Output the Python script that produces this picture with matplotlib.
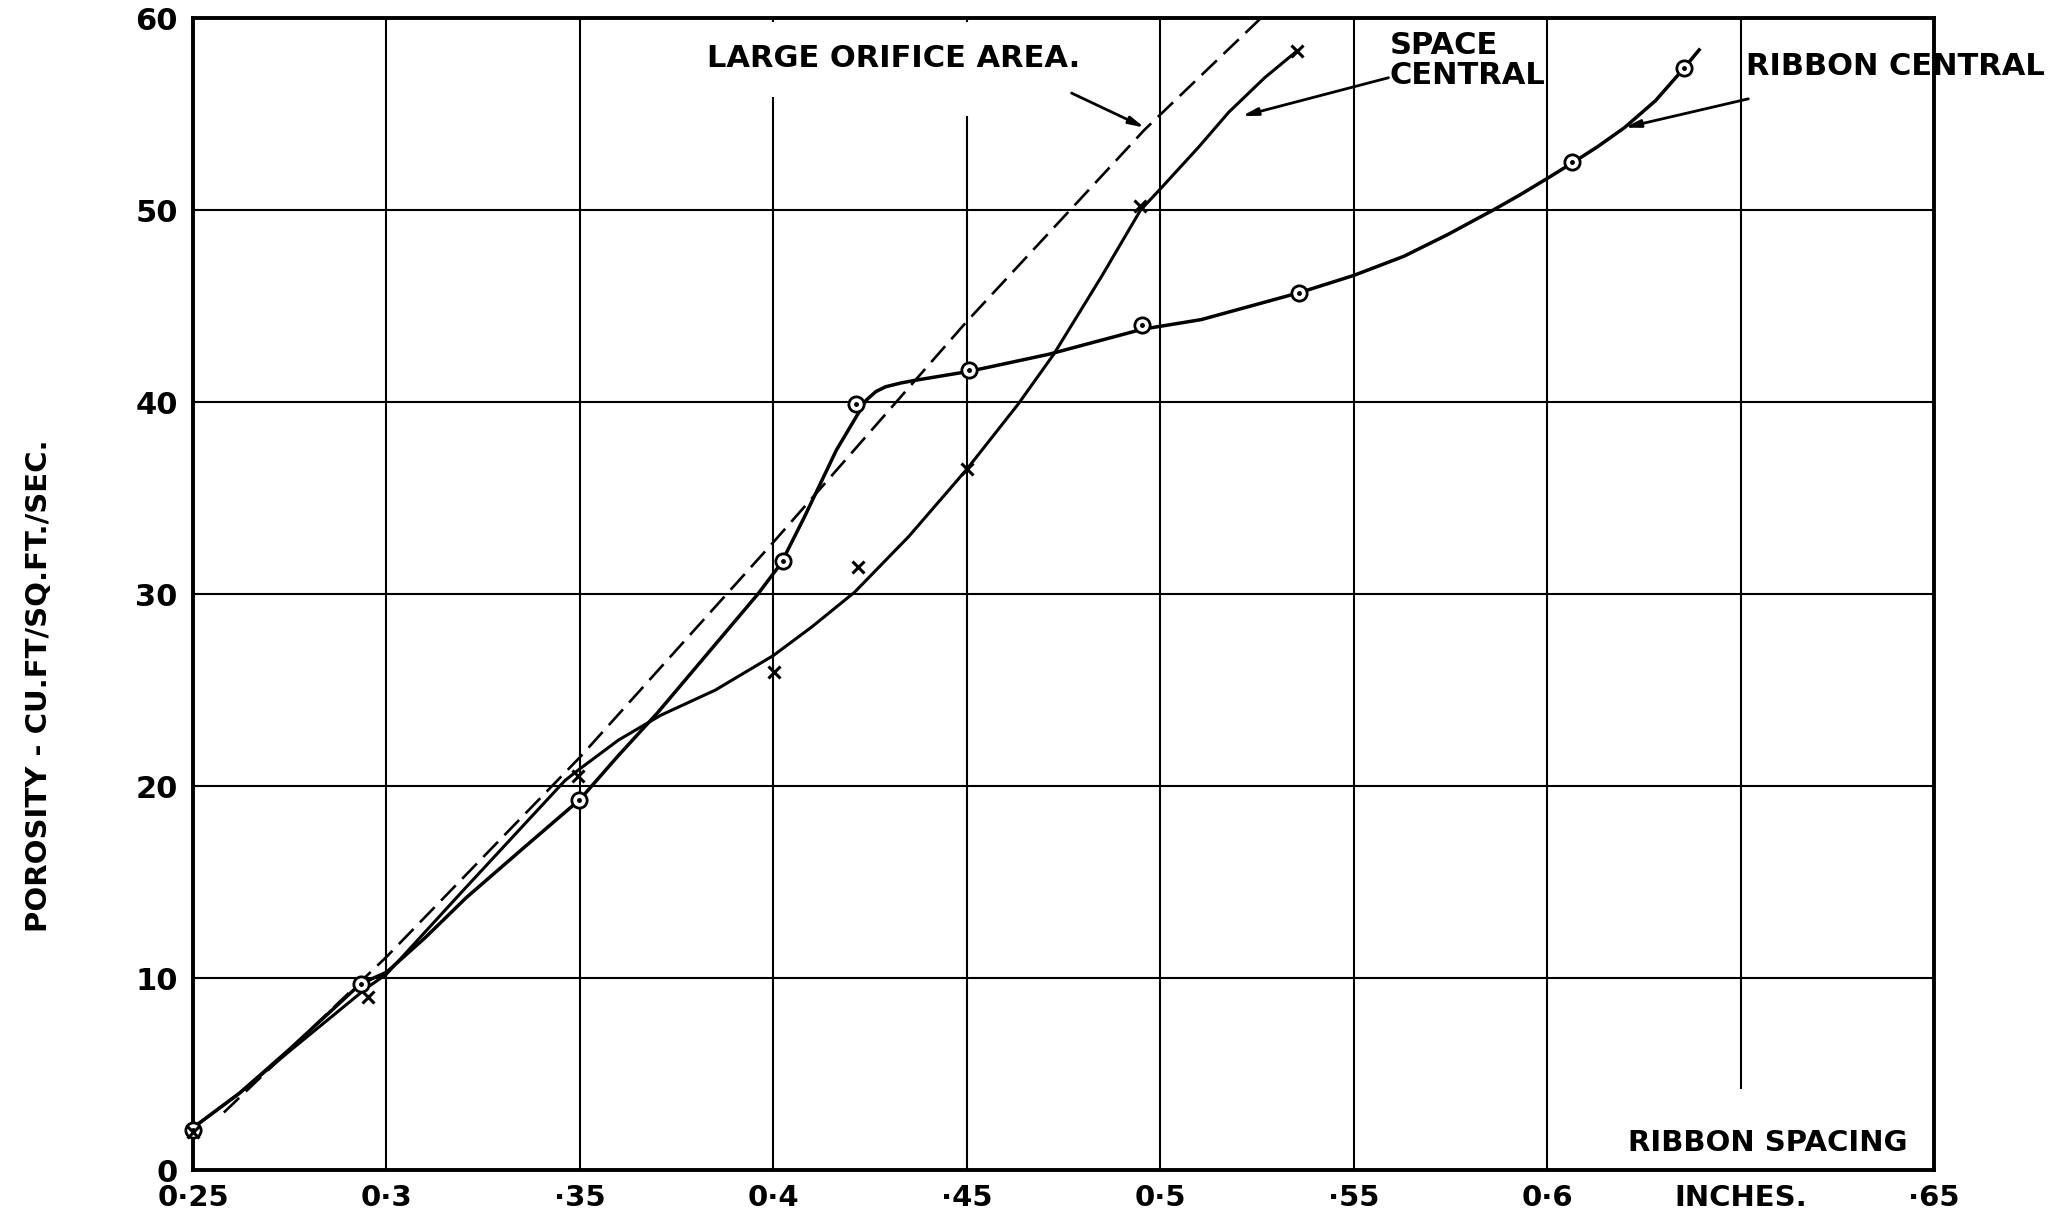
import numpy as np
import matplotlib
matplotlib.use('Agg')
import matplotlib.pyplot as plt

plt.rcParams['font.family'] = ['DejaVu Sans']

ribbon_x = [0.250, 0.2935, 0.3498, 0.4024, 0.4214, 0.4505, 0.4954, 0.5359, 0.6065, 0.6354]
ribbon_y = [2.1, 9.7, 19.3, 31.75, 39.9, 41.7, 44.0, 45.7, 52.5, 57.4]

space_x = [0.250, 0.2953, 0.3496, 0.4003, 0.4220, 0.4500, 0.4949, 0.5354]
space_y = [2.0, 9.0, 20.55, 25.96, 31.4, 36.5, 50.2, 58.3]

# hand drawn curves, traced
ribbon_curve_x = [0.250, 0.262, 0.275, 0.2933, 0.300, 0.310, 0.3207, 0.335, 0.350, 0.360,
                  0.370, 0.383, 0.396, 0.402, 0.408, 0.4163, 0.4225, 0.424, 0.4265, 0.429,
                  0.433, 0.437, 0.4505, 0.4644, 0.4713, 0.4954, 0.5106, 0.5359, 0.550,
                  0.563, 0.5745, 0.580, 0.586, 0.593, 0.600, 0.6065, 0.613, 0.620, 0.628,
                  0.6354, 0.6393]
ribbon_curve_y = [2.2, 4.0, 6.3, 9.7, 10.3, 12.1, 14.2, 16.7, 19.3, 21.6,
                  23.8, 26.9, 30.0, 31.6, 34.0, 37.5, 39.6, 40.1, 40.55, 40.8,
                  41.0, 41.15, 41.6, 42.2, 42.5, 43.8, 44.3, 45.7, 46.6,
                  47.6, 48.75, 49.35, 50.0, 50.8, 51.65, 52.46, 53.3, 54.3, 55.7,
                  57.4, 58.35]

space_curve_x = [0.250, 0.262, 0.275, 0.295, 0.300, 0.320, 0.3462, 0.350, 0.360, 0.371,
                 0.385, 0.400, 0.410, 0.421, 0.435, 0.450, 0.4633, 0.4725, 0.485, 0.4949,
                 0.500, 0.510, 0.5177, 0.527, 0.5354]
space_curve_y = [2.2, 4.0, 6.2, 9.5, 10.2, 14.6, 20.3, 20.9, 22.4, 23.7,
                 25.0, 26.8, 28.3, 30.1, 33.0, 36.5, 39.9, 42.5, 46.6, 50.0,
                 51.1, 53.3, 55.1, 56.9, 58.3]

orifice_x = [0.258, 0.300, 0.350, 0.400, 0.450, 0.496, 0.526]
orifice_y = [3.0, 11.1, 21.5, 32.7, 44.2, 54.2, 60.0]

x_ticks = [0.25, 0.30, 0.35, 0.40, 0.45, 0.50, 0.55, 0.60, 0.65, 0.70]
x_labels = ['0·25', '0·3', '·35', '0·4', '·45', '0·5', '·55', '0·6', 'INCHES.', '·65']
y_ticks = [0, 10, 20, 30, 40, 50, 60]

fig = plt.figure(figsize=(20.57, 12.15), dpi=100)
ax = fig.add_axes([0.0938, 0.037, 0.8464, 0.948])
ax.set_xlim(0.25, 0.70)
ax.set_ylim(0, 60)

# grid, drawn by hand so the gaps under the lettering stay open
for y in y_ticks[1:-1]:
    ax.hlines(y, 0.25, 0.70, color='black', lw=1.5, zorder=1)
for x in [0.30, 0.35, 0.50, 0.55, 0.60]:
    ax.vlines(x, 0, 60, color='black', lw=1.5, zorder=1)
ax.vlines(0.40, 0, 55.9, color='black', lw=1.5, zorder=1)
ax.vlines(0.40, 59.8, 60, color='black', lw=1.5, zorder=1)
ax.vlines(0.45, 0, 54.9, color='black', lw=1.5, zorder=1)
ax.vlines(0.45, 59.8, 60, color='black', lw=1.5, zorder=1)
ax.vlines(0.65, 4.2, 60, color='black', lw=1.5, zorder=1)

for s in ax.spines.values():
    s.set_linewidth(2.8)
    s.set_color('black')

ax.plot(orifice_x, orifice_y, color='black', lw=1.9, dashes=(8, 3.5), zorder=2)
ax.plot(ribbon_curve_x, ribbon_curve_y, color='black', lw=2.5, zorder=3, solid_joinstyle='round')
ax.plot(space_curve_x, space_curve_y, color='black', lw=2.2, zorder=3, solid_joinstyle='round')

ax.plot(ribbon_x, ribbon_y, linestyle='none', marker='o', markersize=11,
        markerfacecolor='white', markeredgecolor='black', markeredgewidth=2, zorder=4, clip_on=False)
ax.plot(ribbon_x, ribbon_y, linestyle='none', marker='o', markersize=2.5,
        color='black', zorder=5, clip_on=False)
ax.plot(space_x, space_y, linestyle='none', marker='x', markersize=9,
        markeredgecolor='black', markeredgewidth=2.2, zorder=5, clip_on=False)

ax.set_xticks(x_ticks)
ax.set_xticklabels(x_labels)
ax.set_yticks(y_ticks)
ax.tick_params(axis='both', length=0)
ax.tick_params(axis='x', pad=10, labelsize=21)
ax.tick_params(axis='y', pad=11, labelsize=22)
for lab in ax.get_xticklabels() + ax.get_yticklabels():
    lab.set_fontweight('bold')

fig.text(0.0191, 0.436, 'POROSITY - CU.FT/SQ.FT./SEC.', fontsize=21, fontweight='bold',
         rotation=90, ha='center', va='center')

arrow = dict(arrowstyle='-|>,head_length=0.9,head_width=0.22', color='black', lw=2, shrinkA=0, shrinkB=0)

ax.text(0.3829, 57.9, 'LARGE ORIFICE AREA.', fontsize=22, fontweight='bold', va='center', ha='left')
ax.annotate('', xy=(0.4960, 54.3), xytext=(0.4771, 56.1), arrowprops=arrow)

ax.text(0.5593, 57.8, 'SPACE\nCENTRAL', fontsize=22, fontweight='bold', va='center', ha='left', linespacing=1.05)
ax.annotate('', xy=(0.5211, 54.9), xytext=(0.5590, 56.9), arrowprops=arrow)

ax.text(0.6514, 57.5, 'RIBBON CENTRAL', fontsize=22, fontweight='bold', va='center', ha='left', clip_on=False)
ax.annotate('', xy=(0.6200, 54.3), xytext=(0.6520, 55.8), arrowprops=arrow)

ax.text(0.6932, 1.4, 'RIBBON SPACING', fontsize=21, fontweight='bold', va='center', ha='right')

fig.savefig('out.png', dpi=100)
